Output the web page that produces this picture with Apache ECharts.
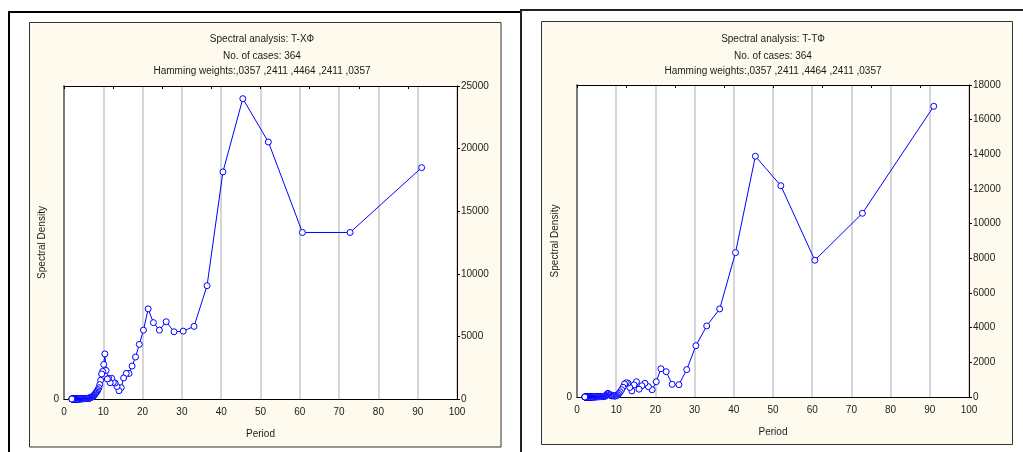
<!DOCTYPE html>
<html>
<head>
<meta charset="utf-8">
<script src="https://cdn.jsdelivr.net/npm/echarts@6/dist/echarts.min.js"></script>
<style>
html,body{margin:0;padding:0;background:#fff;}
#chart{width:1023px;height:452px;}
</style>
</head>
<body>
<div id="chart"></div>
<script>
// Periods (364 / k, k = 4..182)
var periods = [
  91, 72.8, 60.67, 52, 45.5, 40.44, 36.4, 33.09, 30.33, 28,
  26, 24.27, 22.75, 21.41, 20.22, 19.16, 18.2, 17.33, 16.55, 15.83,
  15.17, 14.56, 14, 13.48, 13, 12.55, 12.13, 11.74, 11.38, 11.03,
  10.71, 10.4, 10.11, 9.84, 9.58, 9.33, 9.1, 8.88, 8.67, 8.47,
  8.27, 8.09, 7.91, 7.74, 7.58, 7.43, 7.28, 7.14, 7, 6.87,
  6.74, 6.62, 6.5, 6.39, 6.28, 6.17, 6.07, 5.97, 5.87, 5.78,
  5.69, 5.6, 5.52, 5.43, 5.35, 5.28, 5.2, 5.13, 5.06, 4.99,
  4.92, 4.85, 4.79, 4.73, 4.67, 4.61, 4.55, 4.49, 4.44, 4.39,
  4.33, 4.28, 4.23, 4.18, 4.14, 4.09, 4.04, 4, 3.96, 3.91,
  3.87, 3.83, 3.79, 3.75, 3.71, 3.68, 3.64, 3.6, 3.57, 3.53,
  3.5, 3.47, 3.43, 3.4, 3.37, 3.34, 3.31, 3.28, 3.25, 3.22,
  3.19, 3.17, 3.14, 3.11, 3.08, 3.06, 3.03, 3.01, 2.98, 2.96,
  2.94, 2.91, 2.89, 2.87, 2.84, 2.82, 2.8, 2.78, 2.76, 2.74,
  2.72, 2.7, 2.68, 2.66, 2.64, 2.62, 2.6, 2.58, 2.56, 2.55,
  2.53, 2.51, 2.49, 2.48, 2.46, 2.44, 2.43, 2.41, 2.4, 2.38,
  2.36, 2.35, 2.33, 2.32, 2.3, 2.29, 2.28, 2.26, 2.25, 2.23,
  2.22, 2.21, 2.19, 2.18, 2.17, 2.15, 2.14, 2.13, 2.12, 2.1,
  2.09, 2.08, 2.07, 2.06, 2.04, 2.03, 2.02, 2.01, 2
];

// Spectral density, T-XФ (left chart)
var densityTX = [
  18480, 13300, 13300, 20530, 23990, 18140, 9050, 5800, 5420, 5370,
  6170, 5500, 6100, 7200, 5500, 4360, 3350, 2630, 2040, 2040,
  1680, 900, 660, 1000, 1270, 1330, 1650, 1300, 1650, 1600,
  2280, 3600, 2760, 2200, 2000, 1500, 1150, 900, 750, 650,
  550, 480, 400, 330, 280, 230, 190, 160, 140, 120,
  100, 85, 75, 65, 60, 55, 50, 48, 45, 42,
  40, 38, 40, 36, 34, 35, 32, 30, 31, 29,
  28, 27, 28, 26, 25, 24, 25, 23, 22, 23,
  21, 20, 21, 19, 20, 18, 19, 17, 18, 17,
  16, 17, 15, 16, 15, 14, 15, 14, 13, 14,
  13, 12, 13, 12, 12, 11, 12, 11, 11, 10,
  11, 10, 10, 10, 9, 10, 9, 9, 9, 8,
  9, 8, 8, 8, 8, 7, 8, 7, 7, 7,
  7, 7, 6, 7, 6, 6, 6, 6, 6, 6,
  5, 6, 5, 5, 5, 5, 5, 5, 5, 5,
  5, 4, 5, 4, 4, 4, 4, 4, 4, 4,
  4, 4, 4, 3, 4, 3, 3, 3, 3, 3,
  3, 3, 3, 3, 3, 3, 3, 3, 3
];

// Spectral density, T-TФ (right chart)
var densityTT = [
  16770, 10600, 7890, 12190, 13890, 8330, 5080, 4100, 2960, 1580,
  710, 730, 1460, 1630, 880, 420, 600, 790, 650, 450,
  880, 700, 350, 550, 800, 820, 750, 560, 420, 300,
  200, 130, 80, 60, 50, 70, 90, 60, 80, 120,
  150, 180, 210, 180, 120, 80, 60, 50, 40, 38,
  35, 32, 30, 28, 27, 26, 25, 24, 23, 22,
  21, 20, 20, 19, 18, 18, 17, 17, 16, 16,
  15, 15, 14, 14, 14, 13, 13, 13, 12, 12,
  12, 11, 11, 11, 11, 10, 10, 10, 10, 9,
  9, 9, 9, 9, 8, 8, 8, 8, 8, 8,
  7, 7, 7, 7, 7, 7, 6, 6, 6, 6,
  6, 6, 6, 5, 5, 5, 5, 5, 5, 5,
  5, 5, 4, 4, 4, 4, 4, 4, 4, 4,
  4, 4, 4, 4, 3, 3, 3, 3, 3, 3,
  3, 3, 3, 3, 3, 3, 3, 3, 3, 3,
  2, 2, 2, 2, 2, 2, 2, 2, 2, 2,
  2, 2, 2, 2, 2, 2, 2, 2, 2, 2,
  2, 2, 2, 2, 2, 2, 2, 2, 2
];

var titlesTX = ['Spectral analysis: T-XФ', 'No. of cases: 364', 'Hamming weights:,0357 ,2411 ,4464 ,2411 ,0357'];
var titlesTT = ['Spectral analysis: T-TФ', 'No. of cases: 364', 'Hamming weights:,0357 ,2411 ,4464 ,2411 ,0357'];
var yMaxTX = 25000, yStepTX = 5000;
var yMaxTT = 18000, yStepTT = 2000;

var FONT = '"Liberation Sans", Arial, sans-serif';
var TXT = '#1a1a1a';

function pairs(xs, ys) {
  var out = [];
  for (var i = 0; i < xs.length; i++) out.push([xs[i], ys[i]]);
  return out;
}

var grids = [
  {left: 64, top: 86, width: 393, height: 313},
  {left: 577, top: 85, width: 392, height: 312}
];

function xAxesFor(gi) {
  return [
    {
      gridIndex: gi, type: 'value', position: 'bottom', min: 0, max: 100, interval: 10,
      axisLine: {show: true, onZero: false, lineStyle: {color: '#000', width: 1}},
      axisTick: {show: false},
      axisLabel: {color: TXT, fontSize: 10, fontFamily: FONT, margin: 8,
        formatter: function (v) { return String(v); }},
      splitLine: {show: true, lineStyle: {color: '#c8c8c8', width: 1.5}},
      name: 'Period', nameLocation: 'middle', nameGap: 30,
      nameTextStyle: {color: TXT, fontSize: 10, fontFamily: FONT}
    },
    {
      gridIndex: gi, type: 'value', position: 'top', min: 0, max: 100, interval: 12.5,
      axisLine: {show: true, onZero: false, lineStyle: {color: '#000', width: 1}},
      axisTick: {show: true, inside: true, length: 3, lineStyle: {color: '#000'}},
      axisLabel: {show: false},
      splitLine: {show: false}
    }
  ];
}

function yAxesFor(gi, ymax, ystep) {
  return [
    {
      gridIndex: gi, type: 'value', position: 'left', min: 0, max: ymax, interval: ymax,
      axisLine: {show: true, onZero: false, lineStyle: {color: '#7a7a7a', width: 2}},
      axisTick: {show: false},
      axisLabel: {color: TXT, fontSize: 10, fontFamily: FONT, margin: 5,
        formatter: function (v) { return v === 0 ? '0' : ''; }},
      splitLine: {show: false},
      name: 'Spectral Density', nameLocation: 'middle', nameGap: 17, nameRotate: 90,
      nameTextStyle: {color: TXT, fontSize: 10, fontFamily: FONT}
    },
    {
      gridIndex: gi, type: 'value', position: 'right', min: 0, max: ymax, interval: ystep,
      axisLine: {show: true, onZero: false, lineStyle: {color: '#000', width: 1}},
      axisTick: {show: true, inside: false, length: 3, lineStyle: {color: '#000'}},
      axisLabel: {color: TXT, fontSize: 10, fontFamily: FONT, margin: 4,
        formatter: function (v) { return String(v); }},
      splitLine: {show: false}
    }
  ];
}

function titleTexts(lines, cx) {
  var tops = [34, 51, 66];
  return lines.map(function (t, i) {
    return {
      type: 'text', z: 50, silent: true,
      style: {text: t, x: cx, y: tops[i], textAlign: 'center', fill: TXT,
        font: '10px ' + FONT}
    };
  });
}

var graphics = [
  // outer frames
  {type: 'rect', z: -20, silent: true, shape: {x: 9, y: 12, width: 512, height: 460},
   style: {fill: '#fff', stroke: '#000', lineWidth: 2}},
  {type: 'rect', z: -20, silent: true, shape: {x: 521, y: 10, width: 520, height: 460},
   style: {fill: '#fff', stroke: '#222', lineWidth: 2}},
  // beige panels
  {type: 'rect', z: -10, silent: true, shape: {x: 29.5, y: 22.5, width: 471.5, height: 424.5},
   style: {fill: '#fffaee', stroke: '#333', lineWidth: 1}},
  {type: 'rect', z: -10, silent: true, shape: {x: 541.5, y: 21.5, width: 471, height: 423},
   style: {fill: '#fffaee', stroke: '#333', lineWidth: 1}}
].concat(titleTexts(titlesTX, 262)).concat(titleTexts(titlesTT, 773));

var lineSeries = function (gi, data) {
  return {
    type: 'line', xAxisIndex: gi * 2, yAxisIndex: gi * 2 + 1,
    data: data, symbol: 'circle', symbolSize: 6, showSymbol: true,
    lineStyle: {color: '#0000ff', width: 1},
    itemStyle: {color: '#ffffff', borderColor: '#0000ff', borderWidth: 1},
    emphasis: {disabled: true},
    animation: false, clip: true
  };
};

var chart = echarts.init(document.getElementById('chart'), null, {renderer: 'canvas'});
chart.setOption({
  animation: false,
  backgroundColor: '#fff',
  graphic: graphics,
  grid: grids.map(function (g) {
    return Object.assign({show: true, backgroundColor: '#fff', borderWidth: 0, containLabel: false}, g);
  }),
  xAxis: xAxesFor(0).concat(xAxesFor(1)),
  yAxis: yAxesFor(0, yMaxTX, yStepTX).concat(yAxesFor(1, yMaxTT, yStepTT)),
  series: [
    lineSeries(0, pairs(periods, densityTX)),
    lineSeries(1, pairs(periods, densityTT))
  ]
});
</script>
</body>
</html>
